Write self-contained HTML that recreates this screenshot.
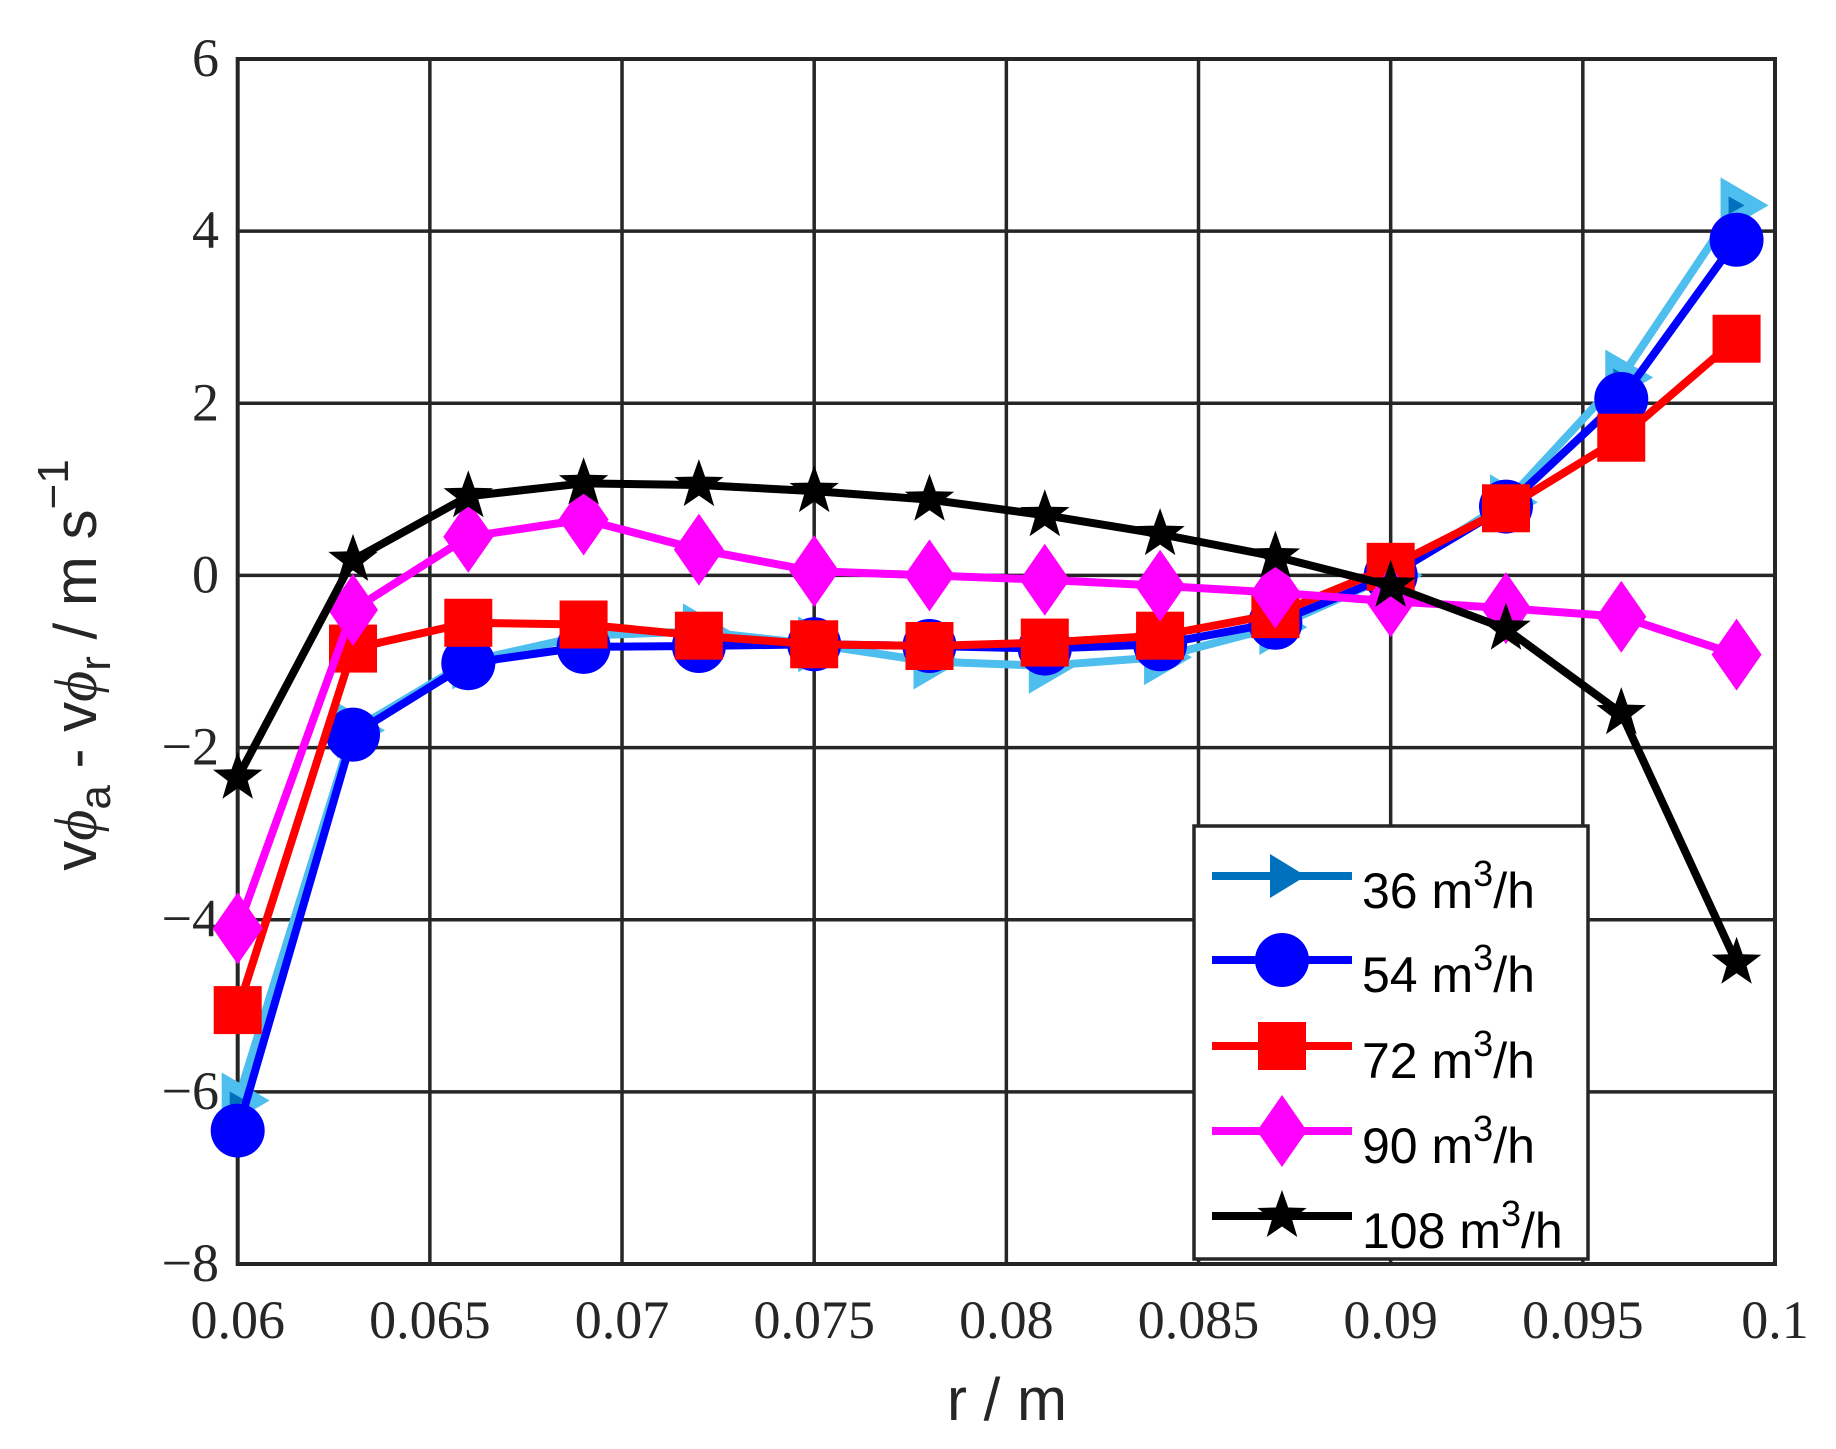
<!DOCTYPE html>
<html><head><meta charset="utf-8"><style>body{margin:0;background:#fff}svg{display:block}</style></head><body>
<svg id="s" width="1836" height="1449" xmlns="http://www.w3.org/2000/svg"></svg>
<script>
const s=document.getElementById('s');
const L=237.7,R=1775,T=59,B=1264;
const X=v=>L+(v-0.06)/0.04*(R-L), Y=v=>B-(v+8)/14*(B-T);
let h='';
for(let i=0;i<=8;i++){const x=X(0.06+i*0.005);h+=`<line x1="${x}" y1="${T}" x2="${x}" y2="${B}" stroke="#262626" stroke-width="3.5"/>`;
 const lab=['0.06','0.065','0.07','0.075','0.08','0.085','0.09','0.095','0.1'][i];
 h+=`<text x="${x}" y="1338" font-family="Liberation Serif,serif" font-size="54" text-anchor="middle" fill="#262626">${lab}</text>`;}
for(let v=-8;v<=6;v+=2){const y=Y(v);h+=`<line x1="${L}" y1="${y}" x2="${R}" y2="${y}" stroke="#262626" stroke-width="3.5"/>`;
 h+=`<text x="219" y="${y+17}" font-family="Liberation Serif,serif" font-size="54" text-anchor="end" fill="#262626">${v<0?'\u2212'+(-v):v}</text>`;}
h+=`<rect x="${L}" y="${T}" width="${R-L}" height="${B-T}" fill="none" stroke="#262626" stroke-width="4"/>`;
const xs=[];for(let i=0;i<14;i++)xs.push(0.06+0.003*i);
const D=[
['#4DBEEE','tri',[-6.1,-1.8,-1.0,-0.7,-0.65,-0.8,-1.0,-1.05,-0.95,-0.6,0,0.85,2.3,4.3]],
['#0000FF','circ',[-6.45,-1.85,-1.02,-0.83,-0.82,-0.8,-0.82,-0.85,-0.8,-0.55,0,0.8,2.05,3.9]],
['#FF0000','sq',[-5.05,-0.85,-0.55,-0.57,-0.7,-0.8,-0.82,-0.78,-0.7,-0.45,0.1,0.78,1.6,2.75]],
['#FF00FF','dia',[-4.1,-0.4,0.45,0.65,0.3,0.05,0.0,-0.05,-0.12,-0.2,-0.3,-0.38,-0.48,-0.92]],
['#000000','star',[-2.35,0.18,0.92,1.07,1.05,0.98,0.88,0.7,0.48,0.22,-0.12,-0.62,-1.6,-4.5]]];
function mk(t,c,x,y){
 if(t=='tri')return `<polygon points="${x-12},${y-21} ${x+24},${y} ${x-12},${y+21}" fill="#4DBEEE" stroke="#4DBEEE" stroke-width="8" stroke-linejoin="miter"/><polygon points="${x-8},${y-9} ${x+8},${y} ${x-8},${y+9}" fill="#0072BD"/>`;
 if(t=='circ')return `<circle cx="${x}" cy="${y}" r="27" fill="${c}"/>`;
 if(t=='sq')return `<rect x="${x-24}" y="${y-24}" width="48" height="48" fill="${c}"/>`;
 if(t=='dia')return `<polygon points="${x},${y-36} ${x+25},${y} ${x},${y+36} ${x-25},${y}" fill="${c}"/>`;
 let p=[];for(let k=0;k<10;k++){const r=k%2?10.5:26,a=-Math.PI/2+k*Math.PI/5;p.push((x+r*Math.cos(a)).toFixed(1)+','+(y+r*Math.sin(a)).toFixed(1));}
 return `<polygon points="${p.join(' ')}" fill="${c}"/>`;}
D.forEach(([c,t,d])=>{h+=`<polyline points="${d.map((v,i)=>X(xs[i])+','+Y(v)).join(' ')}" fill="none" stroke="${c}" stroke-width="8" stroke-linejoin="round"/>`;
 d.forEach((v,i)=>h+=mk(t,c,X(xs[i]),Y(v)));});
h+=`<rect x="1194" y="826" width="394" height="433" fill="#fff" stroke="#262626" stroke-width="3.5"/>`;
const ly=[876,960,1046,1131,1216],lb=['36','54','72','90','108'];
D.forEach(([c,t],i)=>{const y=ly[i];h+=`<line x1="1212" y1="${y}" x2="1352" y2="${y}" stroke="${t=='tri'?'#0072BD':c}" stroke-width="8"/>`+(t=='tri'?`<polygon points="${1270},${y-22} ${1306},${y} ${1270},${y+22}" fill="#0072BD"/>`:mk(t,c,1282,y));
 h+=`<text x="1362" y="${y+32}" font-family="Liberation Sans,sans-serif" font-size="50" fill="#000">${lb[i]} m<tspan dy="-22" font-size="36">3</tspan><tspan dy="22">/h</tspan></text>`;});
h+=`<text x="1007" y="1420" font-family="Liberation Sans,sans-serif" font-size="60" text-anchor="middle" fill="#262626">r / m</text>`;
h+=`<text transform="translate(96,665) rotate(-90)" font-family="Liberation Sans,sans-serif" font-size="60" text-anchor="middle" fill="#262626">v<tspan font-family="Liberation Serif,serif" font-style="italic">ϕ</tspan><tspan dy="14" font-size="44">a</tspan><tspan dy="-14"> - v</tspan><tspan font-family="Liberation Serif,serif" font-style="italic">ϕ</tspan><tspan dy="14" font-size="44">r</tspan><tspan dy="-14"> / m s</tspan><tspan dy="-28" font-size="44">−1</tspan></text>`;
s.innerHTML=h;
</script>
</body></html>
